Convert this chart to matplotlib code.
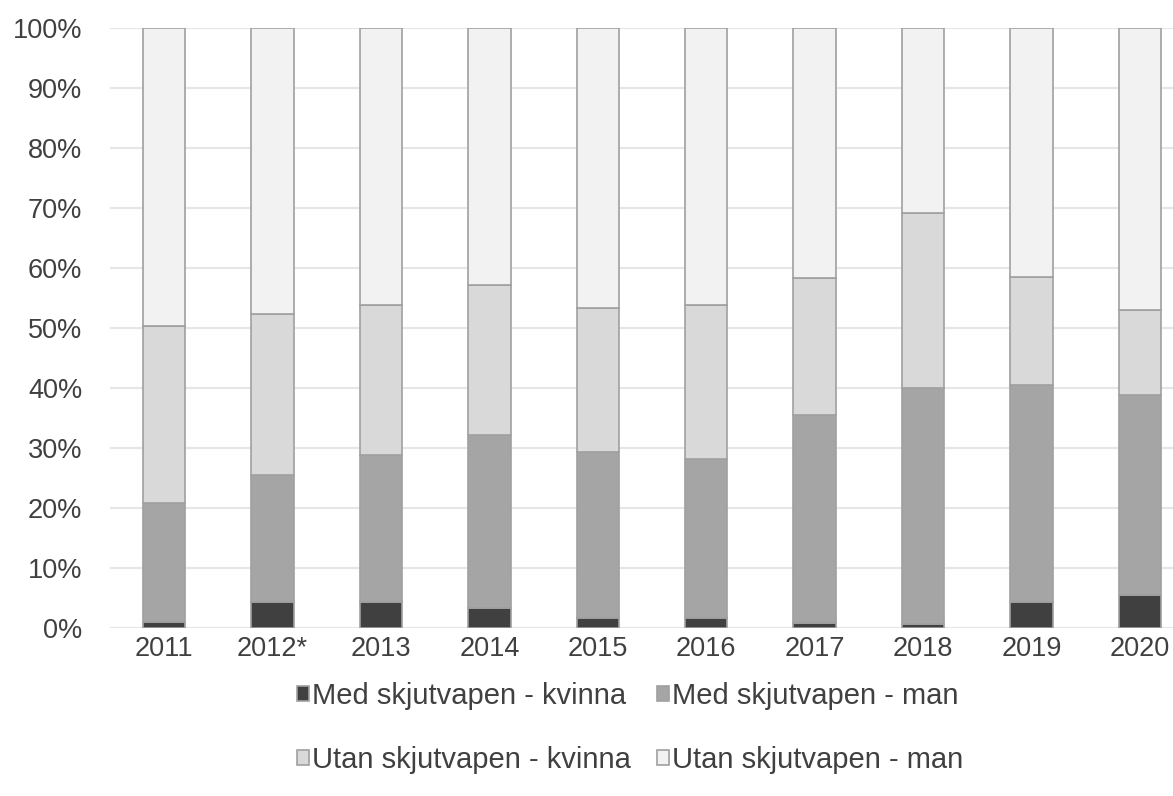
import numpy as np
import matplotlib
matplotlib.use('Agg')
import matplotlib.pyplot as plt
from matplotlib.ticker import MultipleLocator, PercentFormatter

plt.rcParams['font.family'] = ['Liberation Sans', 'DejaVu Sans']

years = ['2011', '2012*', '2013', '2014', '2015', '2016', '2017', '2018', '2019', '2020']

# shares in percent
med_kvinna = [1.0, 4.3, 4.3, 3.3, 1.6, 1.6, 0.8, 0.7, 4.3, 5.5]
med_man = [19.9, 21.2, 24.5, 28.8, 27.7, 26.5, 34.7, 39.3, 36.2, 33.3]
utan_kvinna = [29.4, 26.8, 25.1, 25.1, 24.1, 25.7, 22.8, 29.2, 18.0, 14.2]
utan_man = [49.7, 47.7, 46.1, 42.8, 46.6, 46.2, 41.7, 30.8, 41.5, 47.0]

labels = ['Med skjutvapen - kvinna', 'Med skjutvapen - man',
          'Utan skjutvapen - kvinna', 'Utan skjutvapen - man']
series = [med_kvinna, med_man, utan_kvinna, utan_man]
colors = ['#404040', '#a5a5a5', '#d9d9d9', '#f2f2f2']

txt = '#404040'

fig = plt.figure(figsize=(11.73, 7.96), dpi=100)
ax = fig.add_axes([110/1173, 168/796, 1084/1173, 600/796])

x = np.arange(len(years))
bottom = np.zeros(len(years))
bars = []
for vals, lab, col in zip(series, labels, colors):
    b = ax.bar(x, vals, bottom=bottom, width=0.39, color=col,
               edgecolor='#a0a0a0', linewidth=1.2, label=lab, zorder=3)
    bars.append(b)
    bottom += np.array(vals)

ax.set_xlim(-0.5, len(years) - 0.5)
ax.set_ylim(0, 100)
ax.yaxis.set_major_locator(MultipleLocator(10))
ax.yaxis.set_major_formatter(PercentFormatter(decimals=0))
ax.grid(axis='y', color='#e6e6e6', linewidth=1.5, zorder=0)
ax.set_axisbelow(True)
for s in ax.spines.values():
    s.set_visible(False)
ax.tick_params(axis='both', length=0, labelsize=19.5, colors=txt)
ax.tick_params(axis='y', pad=20)
ax.tick_params(axis='x', pad=6)
ax.set_xticks(x)
ax.set_xticklabels(years)

# legend: two rows, column-wise fill
order = [0, 2, 1, 3]
fig.legend([bars[i] for i in order], [labels[i] for i in order],
           ncol=2, loc='center', bbox_to_anchor=(630/1173, 68/796),
           frameon=False, fontsize=21, handlelength=0.42, handleheight=0.42,
           handletextpad=0.1, columnspacing=0.9, labelspacing=1.25,
           labelcolor=txt)

fig.savefig('out.png', dpi=100, facecolor='white')
